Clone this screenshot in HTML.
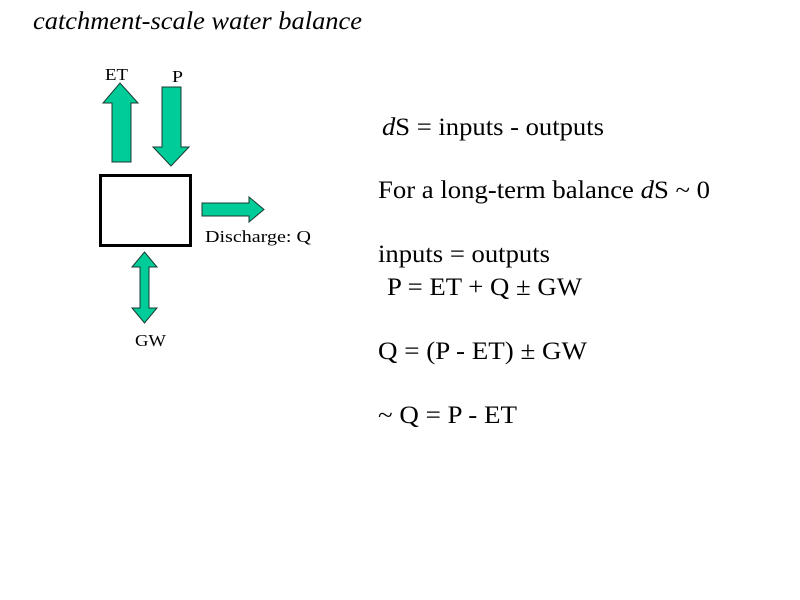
<!DOCTYPE html>
<html><head><meta charset="utf-8"><style>html,body{margin:0;padding:0;background:#fff}svg{display:block}</style></head>
<body>
<svg width="800" height="600" viewBox="0 0 800 600" xmlns="http://www.w3.org/2000/svg" font-family="Liberation Serif, serif" fill="#000">
<text x="33" y="29" font-size="25" font-style="italic" textLength="329" lengthAdjust="spacingAndGlyphs">catchment-scale water balance</text>
<g fill="#00cc99" stroke="#1a3a30" stroke-width="1">
<polygon points="112,162 131,162 131,103 138,103 120,83 103,103 112,103"/>
<polygon points="162,87 181,87 181,147 189,147 171,166 153,147 162,147"/>
<polygon points="202,203 249,203 249,197 264,209.5 249,222 249,216 202,216"/>
<polygon points="144.5,252 157,267 149,267 149,308 157,308 144.5,323 132,308 140,308 140,267 132,267"/>
</g>
<rect x="100.5" y="175.5" width="90" height="70" fill="none" stroke="#000" stroke-width="3"/>
<text x="105" y="80" font-size="17" textLength="23" lengthAdjust="spacingAndGlyphs">ET</text>
<text x="172" y="82" font-size="17" textLength="11" lengthAdjust="spacingAndGlyphs">P</text>
<text x="205" y="242" font-size="17" textLength="106" lengthAdjust="spacingAndGlyphs">Discharge: Q</text>
<text x="135" y="346" font-size="17" textLength="31" lengthAdjust="spacingAndGlyphs">GW</text>
<g font-size="25">
<text x="382" y="135" textLength="222" lengthAdjust="spacingAndGlyphs"><tspan font-style="italic">d</tspan>S = inputs - outputs</text>
<text x="378" y="198" textLength="332" lengthAdjust="spacingAndGlyphs">For a long-term balance <tspan font-style="italic">d</tspan>S ~ 0</text>
<text x="378" y="262" textLength="172" lengthAdjust="spacingAndGlyphs">inputs = outputs</text>
<text x="387" y="295" textLength="195" lengthAdjust="spacingAndGlyphs">P = ET + Q ± GW</text>
<text x="378" y="359" textLength="209" lengthAdjust="spacingAndGlyphs">Q = (P - ET) ± GW</text>
<text x="378" y="423" textLength="139" lengthAdjust="spacingAndGlyphs">~ Q = P - ET</text>
</g>
</svg>
</body></html>
